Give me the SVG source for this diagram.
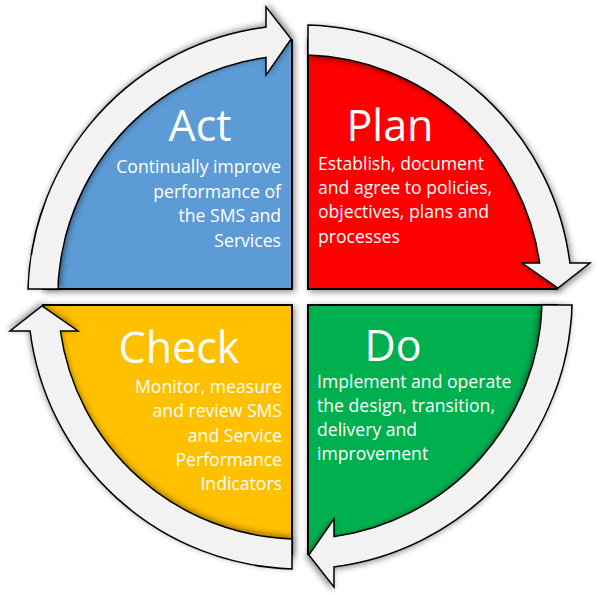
<svg xmlns="http://www.w3.org/2000/svg" width="600" height="595" viewBox="0 0 600 595">
<defs>
<style>
.sector{stroke:#000;stroke-width:2;stroke-linejoin:miter;filter:url(#shadow)}
.arrow{fill:#F2F2F2;stroke:#000;stroke-width:1.5;stroke-linejoin:miter;filter:url(#shadow)}
.title{font-family:"Open Sans","Noto Sans",sans-serif;font-size:43px;fill:#fff;text-anchor:middle}
.body{font-family:"Open Sans","Noto Sans",sans-serif;font-size:17.6px;fill:#fff}
.end{text-anchor:end}
</style>
<filter id="shadow" x="-10%" y="-10%" width="120%" height="120%">
<feGaussianBlur in="SourceAlpha" stdDeviation="3"/>
<feOffset dx="1.5" dy="2" result="b"/>
<feFlood flood-color="#000" flood-opacity="0.45"/>
<feComposite in2="b" operator="in"/>
<feMerge><feMergeNode/><feMergeNode in="SourceGraphic"/></feMerge>
</filter>
</defs>
<rect width="600" height="595" fill="#fff"/>
<g id="act">
<path class="sector" fill="#5B9BD5" d="M 292 289 L 43.1 289 A 257 257 0 0 1 292 40.1 Z"/>
</g>
<g id="plan">
<path class="sector" fill="#FF0000" d="M 308 289 L 308 40.1 A 257 257 0 0 1 556.9 289 Z"/>
</g>
<g id="do">
<path class="sector" fill="#00B050" d="M 308 305 L 556.9 305 A 257 257 0 0 1 308 553.9 Z"/>
</g>
<g id="check">
<path class="sector" fill="#FFC000" d="M 292 305 L 292 553.9 A 257 257 0 0 1 43.1 305 Z"/>
</g>
<g id="connectors">
<path class="arrow" d="M 308 25.1 A 272 272 0 0 1 569.9 263 L 590 263 L 558 288 L 522 263 L 539.6 263 A 242 242 0 0 0 308 55.1 Z"/>
<path class="arrow" transform="rotate(90 300 297)" d="M 308 25.1 A 272 272 0 0 1 569.9 263 L 590 263 L 558 288 L 522 263 L 539.6 263 A 242 242 0 0 0 308 55.1 Z"/>
<path class="arrow" transform="rotate(180 300 297)" d="M 308 25.1 A 272 272 0 0 1 569.9 263 L 590 263 L 558 288 L 522 263 L 539.6 263 A 242 242 0 0 0 308 55.1 Z"/>
<path class="arrow" transform="rotate(270 300 297)" d="M 308 25.1 A 272 272 0 0 1 569.9 263 L 590 263 L 558 288 L 522 263 L 539.6 263 A 242 242 0 0 0 308 55.1 Z"/>
</g>
<g id="act-text">
<text class="title" x="200" y="141">Act</text>
<text class="body end" x="281" y="173">Continually improve</text>
<text class="body end" x="281" y="198">performance of</text>
<text class="body end" x="281" y="222">the SMS and</text>
<text class="body end" x="281" y="247">Services</text>
</g>
<g id="plan-text">
<text class="title" x="390" y="141">Plan</text>
<text class="body" x="318" y="170">Establish, document</text>
<text class="body" x="318" y="194">and agree to policies,</text>
<text class="body" x="318" y="218">objectives, plans and</text>
<text class="body" x="318" y="243">processes</text>
</g>
<g id="do-text">
<text class="title" x="393" y="361">Do</text>
<text class="body" x="317" y="388">Implement and operate</text>
<text class="body" x="317" y="412">the design, transition,</text>
<text class="body" x="317" y="436">delivery and</text>
<text class="body" x="317" y="460">improvement</text>
</g>
<g id="check-text">
<text class="title" x="179" y="363">Check</text>
<text class="body end" x="282" y="393">Monitor, measure</text>
<text class="body end" x="282" y="417">and review SMS</text>
<text class="body end" x="282" y="442">and Service</text>
<text class="body end" x="282" y="466">Performance</text>
<text class="body end" x="282" y="490">Indicators</text>
</g>
</svg>
